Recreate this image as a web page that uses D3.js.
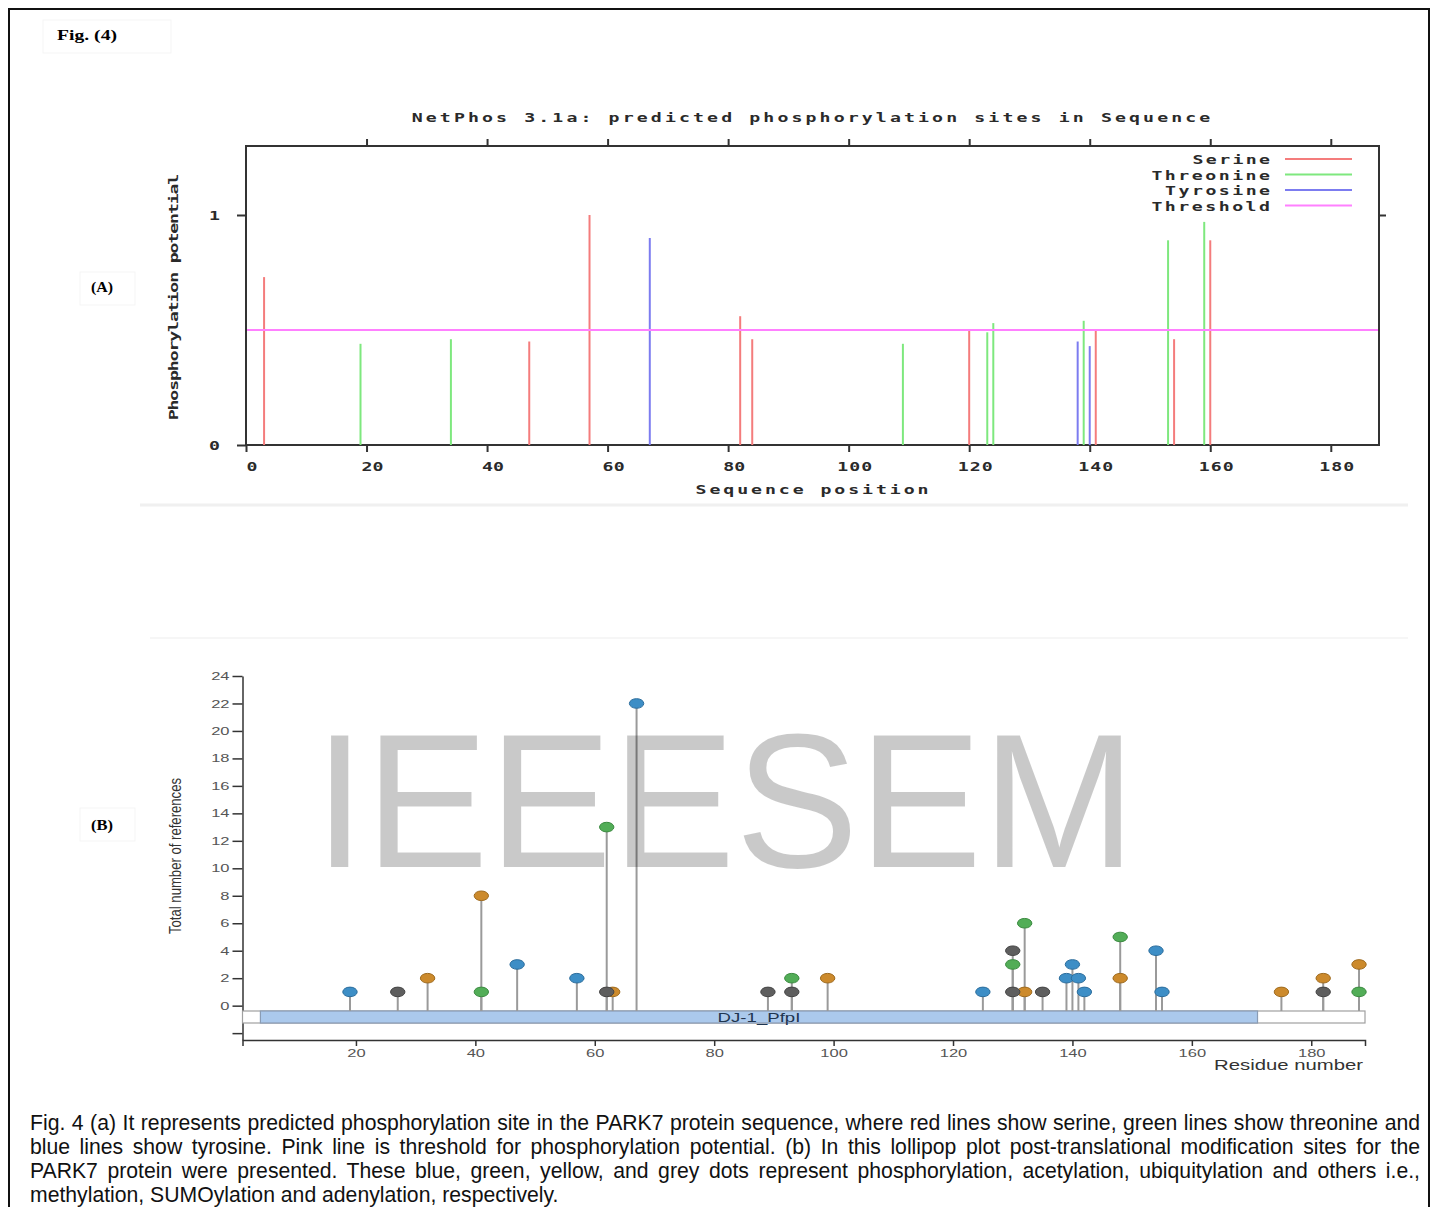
<!DOCTYPE html>
<html>
<head>
<meta charset="utf-8">
<style>
  body { margin: 0; background: #fff; }
  svg { display: block; }
  .gp { font-family: "DejaVu Sans Mono", monospace; font-weight: bold; font-size: 13px; fill: #2a2a2a; }
  .sans { font-family: "Liberation Sans", Arial, sans-serif; }
  .serif { font-family: "Liberation Serif", "Times New Roman", serif; font-weight: bold; }
</style>
</head>
<body>
<svg id="fig" width="1431" height="1207"></svg>
<script src="https://d3js.org/d3.v7.min.js"></script>
<script>
// ---------- (A) NetPhos scores: [sequence position, potential] ----------
const serine = [[3, 0.73], [47, 0.45], [57, 1.0], [82, 0.56], [84, 0.46], [120, 0.50], [141, 0.50], [154, 0.46], [160, 0.89]];
const threonine = [[19, 0.44], [34, 0.46], [109, 0.44], [123, 0.49], [124, 0.53], [139, 0.54], [153, 0.89], [159, 0.97]];
const tyrosine = [[67, 0.90], [138, 0.45], [140, 0.43]];
const threshold = 0.5;
const seqTicks = [0, 20, 40, 60, 80, 100, 120, 140, 160, 180];
const potTicks = [0, 1];
const legendNames = ["Serine", "Threonine", "Tyrosine", "Threshold"];
const legendColors = ["#f47c7c", "#7ee87e", "#7c7cf0", "#ff80ff"];

// ---------- (B) PTM lollipops: [residue, total references] ----------
const phospho = [[19, 1], [47, 3], [57, 2], [67, 22], [125, 1], [139, 2], [140, 3], [141, 2], [142, 1], [154, 4], [155, 1]];
const acetyl = [[41, 1], [62, 13], [93, 2], [130, 3], [132, 6], [148, 5], [188, 1]];
const ubiq = [[32, 2], [41, 8], [63, 1], [99, 2], [132, 1], [148, 2], [175, 1], [182, 2], [188, 3]];
const others = [[27, 1], [62, 1], [89, 1], [93, 1], [130, 4], [130, 1], [135, 1], [182, 1]];
const refTicks = [-2, 0, 2, 4, 6, 8, 10, 12, 14, 16, 18, 20, 22, 24];
const residueTicks = [20, 40, 60, 80, 100, 120, 140, 160, 180];
const proteinRange = [1, 189];
const domainRange = [4, 171];
const domainName = "DJ-1_PfpI";

const captionLines = [
  "Fig. 4 (a) It represents predicted phosphorylation site in the PARK7 protein sequence, where red lines show serine, green lines show threonine and",
  "blue lines show tyrosine. Pink line is threshold for phosphorylation potential. (b) In this lollipop plot post-translational modification sites for the",
  "PARK7 protein were presented. These blue, green, yellow, and grey dots represent phosphorylation, acetylation, ubiquitylation and others i.e.,",
  "methylation, SUMOylation and adenylation, respectively."
];

const svg = d3.select("#fig");

// outer frame + faint panel edges
svg.append("rect").attr("x", 9).attr("y", 9).attr("width", 1420).attr("height", 1230)
  .attr("fill", "none").attr("stroke", "#111").attr("stroke-width", 2);
svg.append("rect").attr("x", 43).attr("y", 20).attr("width", 128).attr("height", 33).attr("fill", "none").attr("stroke", "#f5f5f5");
svg.append("rect").attr("x", 80).attr("y", 272).attr("width", 55).attr("height", 33).attr("fill", "none").attr("stroke", "#f5f5f5");
svg.append("rect").attr("x", 80).attr("y", 808).attr("width", 55).attr("height", 33).attr("fill", "none").attr("stroke", "#f5f5f5");
svg.append("line").attr("x1", 140).attr("x2", 1408).attr("y1", 505).attr("y2", 505).attr("stroke", "#f0f0f0").attr("stroke-width", 3);
svg.append("line").attr("x1", 150).attr("x2", 1408).attr("y1", 638).attr("y2", 638).attr("stroke", "#f6f6f6").attr("stroke-width", 2);

svg.append("text").attr("class", "serif").attr("x", 57).attr("y", 40).attr("font-size", 15)
  .attr("textLength", 60).attr("lengthAdjust", "spacingAndGlyphs").text("Fig. (4)");
svg.append("text").attr("class", "serif").attr("x", 91).attr("y", 292).attr("font-size", 14)
  .attr("textLength", 22).attr("lengthAdjust", "spacingAndGlyphs").text("(A)");
svg.append("text").attr("class", "serif").attr("x", 91).attr("y", 830).attr("font-size", 14)
  .attr("textLength", 22).attr("lengthAdjust", "spacingAndGlyphs").text("(B)");

// gnuplot-like wide monospace text: glyphs widened by sx, then spaced to the pitch
const GX = 1.4;
function gp(g, str, x, y, anchor, pitch, rot) {
  const t = g.append("text").attr("class", "gp").attr("x", 0).attr("y", 0)
    .attr("text-anchor", anchor || "start")
    .attr("transform", `translate(${x},${y})` + (rot ? ` rotate(${rot})` : "") + ` scale(${GX},1)`)
    .text(str);
  if (str.length > 1) t.attr("textLength", ((str.length - 1) * (pitch || 14) + 9) / GX).attr("lengthAdjust", "spacing");
  return t;
}

// ================= (A) =================
const xA = d3.scaleLinear().domain([0, 188]).range([246, 1379]);
const yA = d3.scaleLinear().domain([0, 1.3]).range([445, 146]);
const gA = svg.append("g");

const tickStyle = g => {
  g.select(".domain").remove();
  g.selectAll("line").attr("stroke", "#333").attr("stroke-width", 2);
  g.selectAll("text").remove();
};
gA.append("g").attr("transform", "translate(0,445)").call(d3.axisBottom(xA).tickValues(seqTicks).tickSize(7)).call(tickStyle);
gA.append("g").attr("transform", "translate(0,146)").call(d3.axisTop(xA).tickValues(seqTicks.slice(1)).tickSize(7)).call(tickStyle);
gA.append("g").attr("transform", "translate(246,0)").call(d3.axisLeft(yA).tickValues(potTicks).tickSize(9)).call(tickStyle);
gA.append("g").attr("transform", "translate(1379,0)").call(d3.axisRight(yA).tickValues(potTicks.slice(1)).tickSize(7)).call(tickStyle);

gA.append("rect").attr("x", xA(0)).attr("y", yA(1.3)).attr("width", xA(188) - xA(0)).attr("height", yA(0) - yA(1.3))
  .attr("fill", "none").attr("stroke", "#333").attr("stroke-width", 2);

seqTicks.forEach(d => gp(gA, String(d), xA(d) + 6, 471, "middle", 13));
potTicks.forEach(d => gp(gA, String(d), 220, yA(d) + 5, "end", 13));

gp(gA, "NetPhos 3.1a: predicted phosphorylation sites in Sequence", 811, 122, "middle", 14.1);
gp(gA, "Sequence position", 812, 494, "middle", 14);
gp(gA, "Phosphorylation potential", 178, 297, "middle", 9.9, -90);

[serine, threonine, tyrosine].forEach((series, i) => {
  gA.append("g").selectAll("line").data(series).join("line")
    .attr("x1", d => xA(d[0])).attr("x2", d => xA(d[0]))
    .attr("y1", yA(0)).attr("y2", d => yA(d[1]))
    .attr("stroke", legendColors[i]).attr("stroke-width", 2);
});
gA.append("line").attr("x1", xA(0) + 1).attr("x2", xA(188) - 1)
  .attr("y1", yA(threshold)).attr("y2", yA(threshold))
  .attr("stroke", legendColors[3]).attr("stroke-width", 2);

legendNames.forEach((name, i) => {
  const y = 164 + i * 15.5;
  gp(gA, name, 1270, y, "end", 13.7);
  gA.append("line").attr("x1", 1285).attr("x2", 1352).attr("y1", y - 5).attr("y2", y - 5)
    .attr("stroke", legendColors[i]).attr("stroke-width", 2);
});

// ================= (B) =================
const xB = d3.scaleLinear().domain(proteinRange).range([242.5, 1365]);
const yB = d3.scaleLinear().domain([-2.5, 24]).range([1040, 676]);
const gB = svg.append("g");

function stretch(sel, k) {
  sel.each(function () {
    const w = this.getComputedTextLength();
    if (w > 0) d3.select(this).attr("textLength", w * k).attr("lengthAdjust", "spacingAndGlyphs");
  });
}

const yAxisB = gB.append("g").attr("transform", "translate(242.5,0)")
  .call(d3.axisLeft(yB).tickValues(refTicks).tickSize(10).tickPadding(3).tickSizeOuter(0)
    .tickFormat(d => d >= 0 ? d : ""));
yAxisB.select(".domain").attr("stroke", "#333").attr("stroke-width", 1.5);
yAxisB.selectAll(".tick line").attr("stroke", "#333").attr("stroke-width", 1.5);
yAxisB.selectAll("text").attr("fill", "#555").attr("font-size", 11).attr("font-family", "Liberation Sans, Arial, sans-serif")
  .call(stretch, 1.5);

const xAxisB = gB.append("g").attr("transform", "translate(0,1040)")
  .call(d3.axisBottom(xB).tickValues(residueTicks).tickSize(6).tickSizeOuter(6).tickPadding(3));
xAxisB.select(".domain").attr("stroke", "#333").attr("stroke-width", 1.5);
xAxisB.selectAll(".tick line").attr("stroke", "#333").attr("stroke-width", 1.5);
xAxisB.selectAll("text").attr("fill", "#555").attr("font-size", 11).attr("font-family", "Liberation Sans, Arial, sans-serif")
  .call(stretch, 1.5);

gB.append("text").attr("class", "sans").attr("x", 1363).attr("y", 1070).attr("text-anchor", "end")
  .attr("font-size", 14).attr("fill", "#333").text("Residue number").call(stretch, 1.45);
gB.append("text").attr("class", "sans").attr("text-anchor", "middle").attr("font-size", 17).attr("fill", "#333")
  .attr("textLength", 156).attr("lengthAdjust", "spacingAndGlyphs")
  .attr("transform", "translate(181,856) rotate(-90)").text("Total number of references");

// protein bar and domain
const barTop = 1011, barH = 12;
gB.append("rect").attr("x", xB(proteinRange[0])).attr("y", barTop).attr("width", xB(proteinRange[1]) - xB(proteinRange[0]))
  .attr("height", barH).attr("fill", "#fff").attr("stroke", "#a0a0a0").attr("stroke-width", 1.2);
gB.append("rect").attr("x", xB(domainRange[0])).attr("y", barTop).attr("width", xB(domainRange[1]) - xB(domainRange[0]))
  .attr("height", barH).attr("fill", "#abc9ec").attr("stroke", "#8a9cb4").attr("stroke-width", 1.2);
gB.append("text").attr("class", "sans").attr("x", (xB(domainRange[0]) + xB(domainRange[1])) / 2).attr("y", barTop + 10.5)
  .attr("text-anchor", "middle").attr("font-size", 12).attr("fill", "#1f3550").text(domainName).call(stretch, 1.55);

// lollipops
const ptm = [
  { data: phospho, fill: "#3d8ec6", stroke: "#2c6d9c" },
  { data: acetyl, fill: "#52ad57", stroke: "#3b8a40" },
  { data: ubiq, fill: "#cc8a2c", stroke: "#9e6a1e" },
  { data: others, fill: "#5e5e5e", stroke: "#444" }
];
const stems = gB.append("g");
const heads = gB.append("g");
ptm.forEach(t => {
  stems.selectAll(null).data(t.data).join("line")
    .attr("x1", d => xB(d[0])).attr("x2", d => xB(d[0]))
    .attr("y1", barTop).attr("y2", d => yB(d[1]))
    .attr("stroke", "#9a9a9a").attr("stroke-width", 2);
});
ptm.forEach(t => {
  heads.selectAll(null).data(t.data).join("ellipse")
    .attr("cx", d => xB(d[0])).attr("cy", d => yB(d[1]))
    .attr("rx", 7.2).attr("ry", 4.8)
    .attr("fill", t.fill).attr("stroke", t.stroke).attr("stroke-width", 1);
});

// watermark
svg.append("text").attr("class", "sans").attr("x", 314).attr("y", 867).attr("font-size", 191)
  .attr("textLength", 822).attr("lengthAdjust", "spacingAndGlyphs")
  .attr("fill", "#000").attr("fill-opacity", 0.21).text("IEEESEM");

// caption, justified
captionLines.forEach((line, i) => {
  const t = svg.append("text").attr("class", "sans").attr("x", 30).attr("y", 1130 + i * 24)
    .attr("font-size", 21.2).attr("fill", "#111").text(line);
  if (i < captionLines.length - 1) {
    const w = t.node().getComputedTextLength();
    const gaps = line.split(" ").length - 1;
    t.style("word-spacing", ((1420 - 30 - w) / gaps) + "px");
  }
});
</script>
</body>
</html>
